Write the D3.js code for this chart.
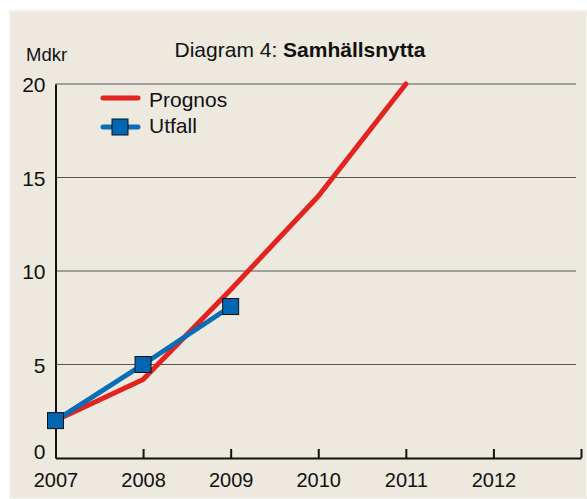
<!DOCTYPE html>
<html>
<head>
<meta charset="utf-8">
<script src="https://cdn.jsdelivr.net/npm/d3@7"></script>
<style>
  body { margin: 0; background: #ffffff; }
  svg { display: block; font-family: "Liberation Sans", Arial, sans-serif; }
</style>
</head>
<body>
<div id="chart"></div>
<script>
const years = [2007, 2008, 2009, 2010, 2011, 2012];
const prognos = [2, 4.2, 9, 14, 20];
const utfall = [2, 5, 8.1];
const yTicks = [0, 5, 10, 15, 20];

const W = 587, H = 499;
const margin = { top: 84, right: 6, bottom: 41, left: 55.5 };
const width = W - margin.left - margin.right;
const height = H - margin.top - margin.bottom;

const svg = d3.select("#chart").append("svg").attr("width", W).attr("height", H);
svg.append("rect").attr("width", W).attr("height", H).attr("fill", "#ffffff");
svg.append("rect").attr("x", 10).attr("y", 11).attr("width", W - 10).attr("height", H - 11)
  .attr("fill", "#ede9df").attr("stroke", "#f4f1ea").attr("stroke-width", 2);

const g = svg.append("g").attr("transform", `translate(${margin.left},${margin.top})`);

const x = d3.scaleLinear().domain([2007, 2013]).range([0, width]);
const y = d3.scaleLinear().domain([0, 20]).range([height, 0]);

// gridlines
g.selectAll(".grid").data(yTicks.filter(d => d > 0)).enter().append("line")
  .attr("x1", 0).attr("x2", width - 5)
  .attr("y1", d => y(d)).attr("y2", d => y(d))
  .attr("stroke", "#555").attr("stroke-width", 1);

// y axis
const yAxis = g.append("g")
  .call(d3.axisLeft(y).tickValues(yTicks).tickSize(0).tickPadding(10));
yAxis.select(".domain").attr("stroke", "#111").attr("stroke-width", 2);
yAxis.selectAll("text").style("font-size", "21px").attr("fill", "#111")
  .attr("dy", d => d === 0 ? "0" : "0.36em");

// x axis
const xAxis = g.append("g").attr("transform", `translate(0,${height})`)
  .call(d3.axisBottom(x).tickValues(years.concat([2013])).tickSize(-9).tickSizeOuter(0).tickPadding(15)
    .tickFormat(d => d === 2013 ? "" : d));
xAxis.select(".domain").attr("stroke", "#111").attr("stroke-width", 2);
xAxis.selectAll(".tick line").attr("stroke", "#111").attr("stroke-width", 2)
  .attr("y2", (d) => d === 2007 ? 0 : -9);
xAxis.selectAll("text").style("font-size", "20px").attr("fill", "#111");

const line = d3.line().x((d, i) => x(years[i])).y(d => y(d));

g.append("path").datum(prognos).attr("d", line)
  .attr("fill", "none").attr("stroke", "#e3231f").attr("stroke-width", 5)
  .attr("stroke-linejoin", "round").attr("stroke-linecap", "round");

g.append("path").datum(utfall).attr("d", line)
  .attr("fill", "none").attr("stroke", "#0b6db5").attr("stroke-width", 5)
  .attr("stroke-linejoin", "round");

g.selectAll(".mark").data(utfall).enter().append("rect")
  .attr("x", (d, i) => x(years[i]) - 8).attr("y", d => y(d) - 8)
  .attr("width", 16).attr("height", 16)
  .attr("fill", "#0066b1").attr("stroke", "#111").attr("stroke-width", 1);

// title
const title = svg.append("text").attr("x", 300).attr("y", 57)
  .attr("text-anchor", "middle").style("font-size", "21px").attr("fill", "#111");
title.append("tspan").text("Diagram 4: ");
title.append("tspan").attr("font-weight", "bold").text("Samhällsnytta");

svg.append("text").attr("x", 26).attr("y", 61).style("font-size", "18.5px")
  .attr("fill", "#111").text("Mdkr");

// legend
const legend = svg.append("g").attr("transform", "translate(103,98)");
legend.append("line").attr("x1", 0).attr("x2", 35).attr("y1", 0).attr("y2", 0)
  .attr("stroke", "#e3231f").attr("stroke-width", 5).attr("stroke-linecap", "round");
legend.append("text").attr("x", 46).attr("y", 9).style("font-size", "21px").attr("fill", "#111").text("Prognos");
legend.append("line").attr("x1", 0).attr("x2", 35).attr("y1", 29).attr("y2", 29)
  .attr("stroke", "#0b6db5").attr("stroke-width", 5).attr("stroke-linecap", "round");
legend.append("rect").attr("x", 9).attr("y", 21).attr("width", 16).attr("height", 16)
  .attr("fill", "#0066b1").attr("stroke", "#111").attr("stroke-width", 1);
legend.append("text").attr("x", 46).attr("y", 35).style("font-size", "21px").attr("fill", "#111").text("Utfall");
</script>
</body>
</html>
